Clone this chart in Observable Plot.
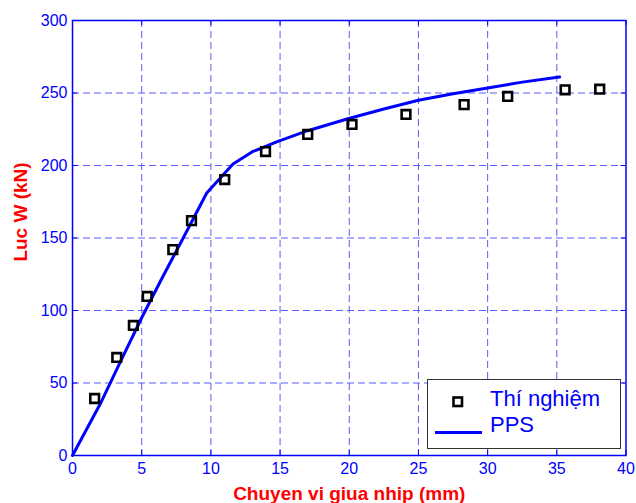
<!DOCTYPE html>
<html>
<head>
<meta charset="utf-8">
<script src="https://cdn.jsdelivr.net/npm/d3@7"></script>
<script src="https://cdn.jsdelivr.net/npm/@observablehq/plot@0.6"></script>
<style>
  html, body { margin: 0; padding: 0; background: #fff; }
  #wrap { position: relative; width: 636px; height: 503px; font-family: "Liberation Sans", Arial, sans-serif; }
  #legend { position: absolute; left: 427px; top: 379px; width: 192px; height: 68px; background: #fff; border: 1.5px solid #333; }
  .lg-item { position: absolute; font-size: 22px; color: #0000ff; white-space: nowrap; }
</style>
</head>
<body>
<div id="wrap"></div>
<script>
// Test data (Thí nghiệm): displacement (mm), load (kN)
const testX = [1.6, 3.2, 4.4, 5.4, 7.25, 8.6, 11.0, 13.95, 17.0, 20.2, 24.1, 28.3, 31.45, 35.6, 38.1];
const testY = [39.3, 67.6, 89.7, 109.7, 142, 162, 190.3, 209.6, 221.4, 228.3, 235.2, 242, 247.6, 252.2, 252.6];
// Model curve (PPS)
const ppsX = [0, 2, 3.5, 5, 6.4, 8, 9.7, 11.6, 13, 14.8, 17, 19.9, 22.5, 25, 27.5, 30, 32.5, 35.2];
const ppsY = [0, 35.5, 65.5, 95, 121, 150, 181, 201, 209.5, 216.5, 224, 232.2, 239, 245, 249.5, 253.5, 257.5, 261];
// Ticks
const xTicks = [0, 5, 10, 15, 20, 25, 30, 35, 40];
const yTicks = [0, 50, 100, 150, 200, 250, 300];
const seriesNames = ["Thí nghiệm", "PPS"];
const xLabel = "Chuyen vi giua nhip (mm)";
const yLabel = "Luc W (kN)";

const test = testX.map((x, i) => ({x, y: testY[i]}));
const pps = ppsX.map((x, i) => ({x, y: ppsY[i]}));

const W = 636, H = 503, mL = 72, mR = 10.5, mT = 20, mB = 48;
const innerW = W - mL - mR, innerH = H - mT - mB;
const blue = "#0000ff";
const gridColor = "#5a5aff";
const tk = 5;

const chart = Plot.plot({
  width: W, height: H,
  marginLeft: mL, marginRight: mR, marginTop: mT, marginBottom: mB,
  style: {background: "#fff", color: blue, fontFamily: "Liberation Sans, Arial, sans-serif", fontSize: "16px"},
  x: {domain: [0, 40], ticks: xTicks},
  y: {domain: [0, 300], ticks: yTicks},
  marks: [
    Plot.ruleX(xTicks.filter(d => d > 0 && d < 40), {stroke: gridColor, strokeWidth: 1, strokeDasharray: "7,4"}),
    Plot.ruleY(yTicks.filter(d => d > 0), {stroke: gridColor, strokeWidth: 1, strokeDasharray: "7,4"}),
    // inward ticks
    Plot.tickX(xTicks, {x: d => d, stroke: blue, insetTop: innerH - tk}),
    Plot.tickX(xTicks, {x: d => d, stroke: blue, insetBottom: innerH - tk}),
    Plot.tickY(yTicks, {y: d => d, stroke: blue, insetRight: innerW - tk}),
    Plot.tickY(yTicks, {y: d => d, stroke: blue, insetLeft: innerW - tk}),
    Plot.frame({stroke: blue, strokeWidth: 1.5}),
    Plot.axisX({ticks: xTicks, tickSize: 0, tickPadding: 7, label: null, fill: blue, fontSize: 16}),
    Plot.axisY({ticks: yTicks, tickSize: 0, tickPadding: 5, label: null, fill: blue, fontSize: 16}),
    Plot.line(pps, {x: "x", y: "y", stroke: blue, strokeWidth: 3}),
    Plot.dot(test, {x: "x", y: "y", symbol: "square", r: 4.9, stroke: "#000", strokeWidth: 2.6, fill: "none"}),
    Plot.text([xLabel], {frameAnchor: "bottom", lineAnchor: "middle", textAnchor: "middle", dy: 38, fill: "#ff0000", fontWeight: "bold", fontSize: 19}),
    Plot.text([yLabel], {frameAnchor: "left", lineAnchor: "middle", textAnchor: "middle", rotate: -90, dx: -52, dy: -26, fill: "#ff0000", fontWeight: "bold", fontSize: 19})
  ]
});

const wrap = document.getElementById("wrap");
wrap.appendChild(chart);

// Legend
const lg = document.createElement("div");
lg.id = "legend";
lg.innerHTML = `
  <svg width="60" height="68" style="position:absolute;left:0;top:0">
    <rect x="25.5" y="17.5" width="8.5" height="8.5" fill="none" stroke="#000" stroke-width="2.6"/>
    <line x1="7" y1="52.5" x2="54" y2="52.5" stroke="${blue}" stroke-width="3"/>
  </svg>
  <div class="lg-item" style="left:62px;top:6px">${seriesNames[0]}</div>
  <div class="lg-item" style="left:62px;top:32px">${seriesNames[1]}</div>`;
wrap.appendChild(lg);
</script>
</body>
</html>
